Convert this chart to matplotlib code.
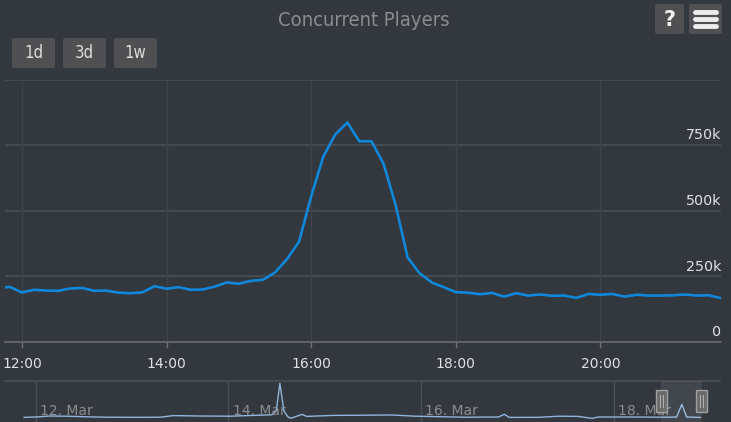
"""
Concurrent players, one day view with navigator
"""
import pandas as pd
import matplotlib.pyplot as plt
import matplotlib.dates as mdates
from matplotlib.patches import FancyBboxPatch, Rectangle

W, H = 731, 422
BG = '#33373e'
GRID = '#4b4f56'
VGRID = '#3f434a'
LINE = '#0f87db'

# main series, every 10 minutes, thousands of players
times = pd.date_range('2024-03-18 11:40', '2024-03-18 21:40', freq='10min')
players = [205, 210, 189, 199, 196, 195, 204, 206, 195, 196,
           188, 186, 189, 213, 203, 209, 199, 200, 211, 227,
           222, 233, 237, 265, 316, 383, 555, 706, 791, 836,
           765, 765, 680, 523, 322, 262, 227, 209, 190, 188,
           182, 187, 173, 186, 177, 181, 176, 177, 168, 183,
           180, 183, 173, 180, 177, 177, 178, 181, 177, 178,
           167]

y_ticks = [0, 250, 500, 750]
y_labels = ['0', '250k', '500k', '750k']

# navigator series: hours after 12 Mar 00:00, thousands
nav_hours = [-2.9, 0, 3.6, 7.7, 12.7, 17.7, 24.3, 31, 34.3, 40.9,
             48.4, 54.2, 58.8, 59.9, 60.8, 61.8, 62.7, 63.5, 65, 66.3,
             67.5, 74.1, 82, 88.7, 94.5, 106.9, 115.2, 116.7, 117.9, 125.2,
             130.2, 135.1, 138.5, 140.1, 148.4, 156.7, 159.6, 160.9, 162.1, 165.5]
nav_values = [173, 190, 240, 230, 200, 180, 175, 180, 260, 240,
              230, 270, 300, 500, 1863, 500, 220, 124, 230, 320,
              220, 270, 280, 290, 230, 180, 190, 323, 170, 175,
              230, 220, 124, 190, 190, 180, 190, 820, 190, 170]
nav_days = ['2024-03-12', '2024-03-14', '2024-03-16', '2024-03-18']


def fx(px):
    return px / W


def fy(py):
    return 1 - py / H


plt.rcParams['font.family'] = ['DejaVu Sans']
fig = plt.figure(figsize=(W / 100, H / 100), dpi=100, facecolor=BG)

# ---- main chart ----
ax = fig.add_axes([fx(5), fy(342), fx(721) - fx(5), fy(79.6) - fy(342)])
ax.set_facecolor(BG)
ax.plot(times, players, color=LINE, lw=1.9, solid_joinstyle='miter', zorder=3)
ax.set_ylim(0, 1000)
ax.set_xlim(pd.Timestamp('2024-03-18 11:46'), pd.Timestamp('2024-03-18 21:40'))
for v in [250, 500, 750, 1000]:
    ax.axhline(v, color=GRID, lw=1.1, zorder=1)
ax.xaxis.set_major_locator(mdates.HourLocator(byhour=range(0, 24, 2)))
ax.xaxis.set_major_formatter(mdates.DateFormatter('%H:%M'))
ax.grid(axis='x', color=VGRID, lw=1)
ax.set_yticks([])
for s in ['top', 'left', 'right']:
    ax.spines[s].set_visible(False)
ax.spines['bottom'].set_color('#707070')
ax.spines['bottom'].set_linewidth(1.1)
ax.tick_params(axis='x', colors='#707070', length=4, width=1, pad=7,
               labelcolor='#e0e0e3', labelsize=10)
for v, lab in zip(y_ticks, y_labels):
    ax.annotate(lab, (1, v), xycoords=('axes fraction', 'data'),
                xytext=(0, 2), textcoords='offset points',
                ha='right', va='bottom', color='#e0e0e3', fontsize=10.3)

# ---- navigator ----
nav_t = pd.Timestamp('2024-03-12') + pd.to_timedelta(nav_hours, unit='h')
nav = fig.add_axes([fx(5), fy(422), fx(720) - fx(5), fy(381) - fy(422)])
nav.set_facecolor(BG)
nav.plot(nav_t, nav_values, color='#8fb6e0', lw=1, zorder=3)
nav.set_xlim(pd.Timestamp('2024-03-12') + pd.Timedelta(hours=-7.65),
             pd.Timestamp('2024-03-12') + pd.Timedelta(hours=170.4))
nav.set_ylim(-58, 1979)
for s in ['left', 'right', 'bottom']:
    nav.spines[s].set_visible(False)
nav.spines['top'].set_color(GRID)
nav.spines['top'].set_linewidth(1.2)
nav.set_xticks([])
nav.set_yticks([])
for d in nav_days:
    t = pd.Timestamp(d)
    nav.axvline(t, color=GRID, lw=1, zorder=1)
    nav.annotate(t.strftime('%d. %b'), (t, 0), xycoords=('data', 'axes fraction'),
                 xytext=(3, 3), textcoords='offset points',
                 ha='left', va='bottom', color='#8c8c8c', fontsize=10)

# selected range + handles
fig.add_artist(Rectangle((fx(661), fy(422)), fx(701.6) - fx(661), fy(381) - fy(422),
                         transform=fig.transFigure, facecolor='#ffffff', alpha=0.08,
                         edgecolor='none'))
for hx in [661, 701]:
    fig.add_artist(Rectangle((fx(hx - 5.5), fy(411.5)), fx(11), fy(390) - fy(411.5),
                             transform=fig.transFigure, facecolor='#6a6a6a',
                             edgecolor='#a0a0a0', lw=1))
    for dx in [-1.5, 1.5]:
        fig.add_artist(plt.Line2D([fx(hx + dx), fx(hx + dx)], [fy(395), fy(407)],
                                  transform=fig.transFigure, color='#b0b0b0', lw=0.8))

# ---- title and buttons ----
fig.text(fx(364), fy(20), 'Concurrent Players', ha='center', va='center',
         color='#8c8c8c', fontsize=14.5, fontstretch='condensed')


def button(x0, x1, y0, y1):
    fig.add_artist(FancyBboxPatch((fx(x0), fy(y1)), fx(x1) - fx(x0), fy(y0) - fy(y1),
                                  boxstyle='round,pad=0,rounding_size=0.004',
                                  transform=fig.transFigure, facecolor='#505053',
                                  edgecolor='none'))


for lab, x0 in zip(['1d', '3d', '1w'], [12, 63, 114]):
    button(x0, x0 + 43, 38, 68)
    fig.text(fx(x0 + 21.5), fy(53), lab, ha='center', va='center', color='#dddddd',
             fontsize=12, fontstretch='condensed')

button(655, 684, 4, 34)
fig.text(fx(669.5), fy(19.5), '?', ha='center', va='center', color='#f0f0f0',
         fontsize=15, fontweight='bold')
button(689, 722, 4, 34)
for by in [12, 19, 26]:
    fig.add_artist(plt.Line2D([fx(695), fx(716)], [fy(by), fy(by)],
                              transform=fig.transFigure, color='#eeeeee', lw=3.5,
                              solid_capstyle='round'))

fig.savefig('out.png', dpi=100, facecolor=BG)
